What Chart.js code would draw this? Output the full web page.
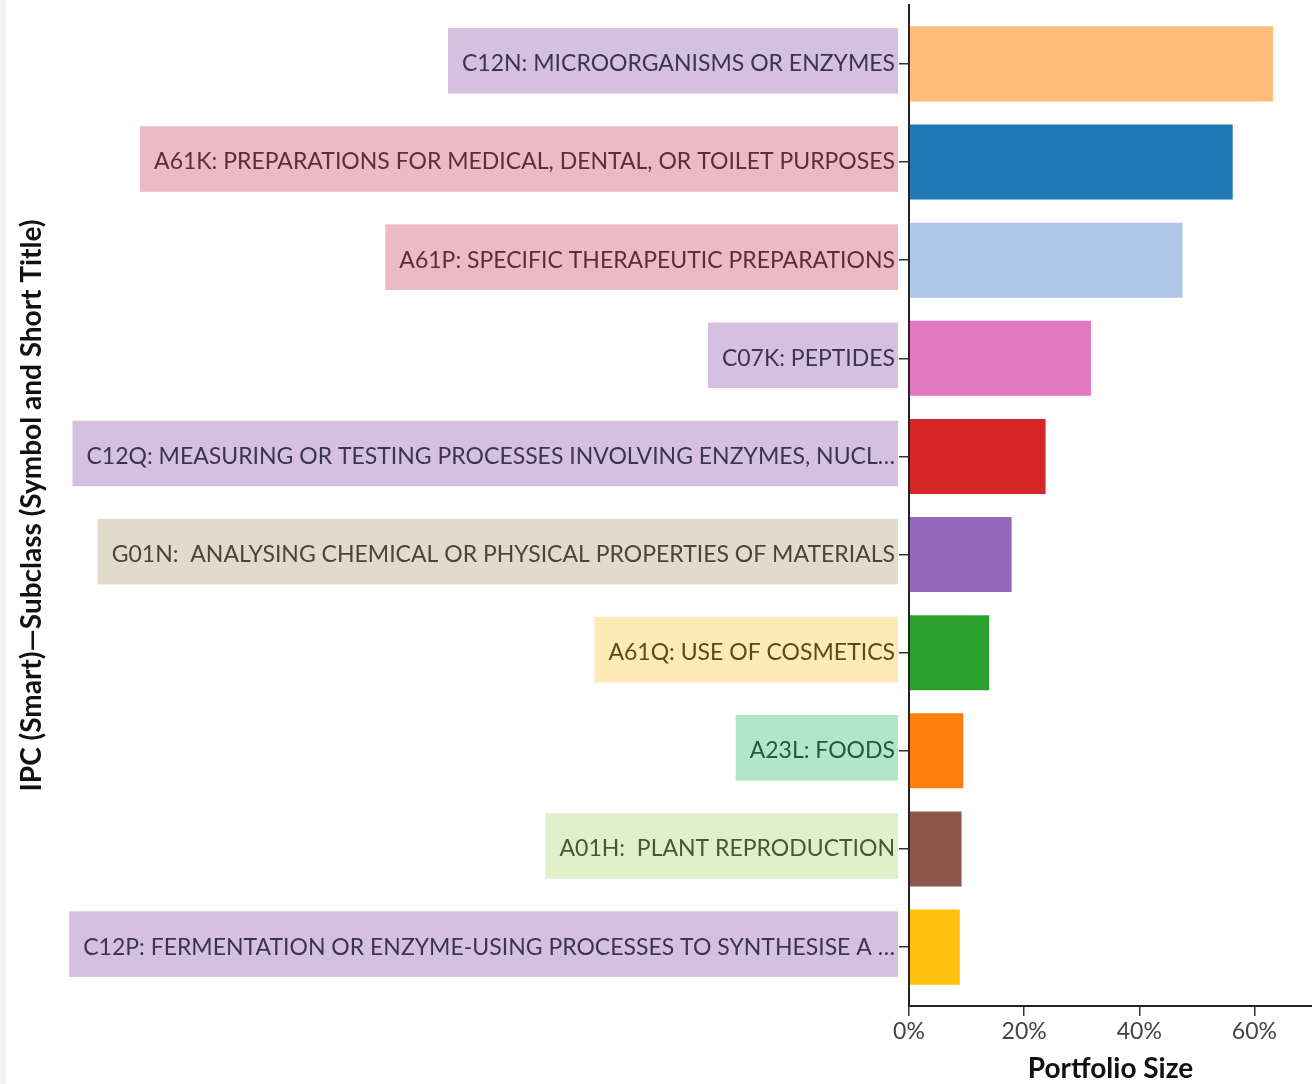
<!DOCTYPE html>
<html>
<head>
<meta charset="utf-8">
<script src="https://cdn.jsdelivr.net/npm/chart.js@4"></script>
<style>
  html, body { margin: 0; padding: 0; background: #fff; }
  #strip { position: absolute; left: 0; top: 0; width: 6px; height: 1084px; background: #f2f2f2; }
  #wrap { position: absolute; left: 6px; top: 0; width: 1306px; height: 1084px; }
</style>
</head>
<body>
<div id="strip"></div>
<div id="wrap"><canvas id="ipcChart"></canvas></div>
<script>
// IPC subclasses, top to bottom
const categories = [
    "C12N: MICROORGANISMS OR ENZYMES",
    "A61K: PREPARATIONS FOR MEDICAL, DENTAL, OR TOILET PURPOSES",
    "A61P: SPECIFIC THERAPEUTIC PREPARATIONS",
    "C07K: PEPTIDES",
    "C12Q: MEASURING OR TESTING PROCESSES INVOLVING ENZYMES, NUCL\u2026",
    "G01N:  ANALYSING CHEMICAL OR PHYSICAL PROPERTIES OF MATERIALS",
    "A61Q: USE OF COSMETICS",
    "A23L: FOODS",
    "A01H:  PLANT REPRODUCTION",
    "C12P: FERMENTATION OR ENZYME-USING PROCESSES TO SYNTHESISE A \u2026"
];

// portfolio size in percent
const portfolioShare = [63.4, 56.4, 47.7, 31.8, 23.9, 18.0, 14.1, 9.6, 9.3, 9.0];

const barColors = ["#ffbb78", "#1f77b4", "#aec7e8", "#e377c2", "#d62728",
                   "#9467bd", "#2ca02c", "#ff7f0e", "#8c564b", "#ffc10e"];

const labelBoxColors = ["#d5c0e1", "#eabac5", "#eabac5", "#d5c0e1", "#d5c0e1",
                        "#dfdccc", "#feeab5", "#b2e6ca", "#dff0cb", "#d5c0e1"];

const labelTextColors = ["#3c3358", "#5b2d3e", "#5b2d3e", "#3c3358", "#3c3358",
                         "#4b4637", "#5c4a1e", "#2c5544", "#48573a", "#3c3358"];

const xTickStep = 20;
const xMax = 70;

document.addEventListener("DOMContentLoaded", function () {
    let ctx = document.getElementById("ipcChart").getContext("2d");
    new Chart(ctx, {
        type: "bar",
        data: {
            datasets: [{
                data: portfolioShare.map((v, i) => ({ x: v, y: i })),
                backgroundColor: barColors,
                borderColor: "rgba(255,255,255,0.45)",
                borderWidth: 1,
                categoryPercentage: 1,
                barPercentage: 0.785
            }]
        },
        options: {
            indexAxis: "y",
            responsive: true,
            maintainAspectRatio: false,
            animation: false,
            layout: { padding: { top: 5, left: 0, right: 0, bottom: 0 } },
            plugins: {
                legend: { display: false },
                tooltip: { enabled: false }
            },
            scales: {
                x: {
                    type: "linear",
                    min: 0,
                    max: xMax,
                    afterFit: s => { s.height = 78; s.paddingLeft = 0; s.paddingRight = 0; },
                    border: { color: "#222", width: 2 },
                    grid: { drawOnChartArea: false, tickLength: 10, color: "#333", lineWidth: 1.5 },
                    ticks: {
                        stepSize: xTickStep,
                        includeBounds: false,
                        padding: 2,
                        color: "#444",
                        font: { family: "Lato", size: 23 },
                        callback: v => v + "%"
                    },
                    title: {
                        display: true,
                        text: "Portfolio Size",
                        color: "#111",
                        font: { family: "Lato", size: 28, weight: "bold", lineHeight: 1.1 },
                        padding: { top: 0, bottom: 0 }
                    }
                },
                y: {
                    type: "linear",
                    reverse: true,
                    offset: false,
                    min: -0.6,
                    max: categories.length - 0.4,
                    afterFit: s => { s.width = 903; s.paddingTop = 0; s.paddingBottom = 0; },
                    afterBuildTicks: s => { s.ticks = categories.map((c, i) => ({ value: i })); },
                    border: { color: "#222", width: 2 },
                    grid: { offset: false, drawOnChartArea: false, tickLength: 10, color: "#333", lineWidth: 1.5 },
                    ticks: {
                        autoSkip: false,
                        padding: 4,
                        font: { family: "Lato", size: 23 },
                        color: c => labelTextColors[c.index],
                        showLabelBackdrop: true,
                        backdropColor: c => labelBoxColors[c.index],
                        backdropPadding: { top: 22, bottom: 16, left: 14, right: 3 },
                        callback: v => categories[v]
                    },
                    title: {
                        display: true,
                        text: "IPC (Smart)\u2014Subclass (Symbol and Short Title)",
                        color: "#111",
                        font: { family: "Lato", size: 28, weight: "bold" },
                        padding: { top: 9, bottom: 0 }
                    }
                }
            }
        }
    });
});
</script>
</body>
</html>
